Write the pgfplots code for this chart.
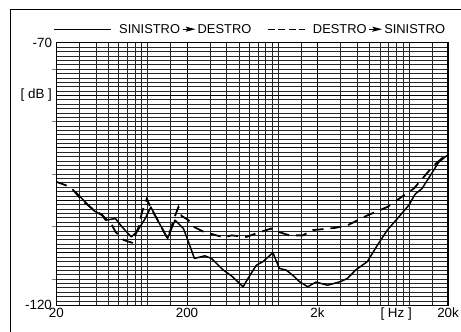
\documentclass[border=0pt]{standalone}
\usepackage{pgfplots}
\pgfplotsset{compat=1.18}
\usepackage{fontspec}
\setmainfont{Liberation Sans}
\newsavebox{\arrbox}
\begin{document}
\sbox{\arrbox}{\tikz[baseline={(0,-4.4bp)}]{\draw[line width=0.9pt] (0,0)--(6bp,0); \fill (3bp,2.6bp)--(13bp,0)--(3bp,-2.6bp)--(5bp,0)--cycle;}}
\begin{tikzpicture}
\begin{axis}[
  name=ax,
  at={(0,0)}, anchor=south west,
  scale only axis, width=394bp, height=264bp,
  xmode=log, xmin=20, xmax=20000, ymin=-120, ymax=-70,
  xtick={20,200,2000,20000}, xticklabels={20,200,2k,20k},
  minor xtick={30,40,50,60,70,80,90,100,150,300,400,500,600,700,800,900,1000,1500,3000,4000,5000,6000,7000,8000,9000,10000,15000},
  ytick={-120,-110,-100,-90,-80,-70}, yticklabels={-120,,,,{[ dB ]},-70},
  minor y tick num=11,
  grid=both,
  major grid style={black, line width=0.9pt},
  minor grid style={black!85, line width=0.45pt},
  major tick length=0pt, minor tick length=0pt,
  axis line style={line width=1.2pt},
  ytick pos=left, xtick pos=bottom,
  tick label style={font=\fontsize{13.5}{15}\selectfont},
  xticklabel style={yshift=1bp},
  yticklabel style={xshift=-1bp},
  extra x ticks={8000}, extra x tick labels={[ Hz ]},
  extra x tick style={grid=none, major tick length=0pt},
  extra y ticks={-75,-85,-95,-105,-115}, extra y tick labels={},
  extra y tick style={grid=none, major tick length=4bp, tick align=outside, tick style={line width=0.8pt}},
  legend columns=2,
  legend style={at={(rel axis cs:0,1)}, anchor=west, yshift=13bp, xshift=-3bp,
    draw=none, fill=none, inner sep=0pt,
    font=\fontsize{13}{15}\selectfont,
    /tikz/every odd column/.append style={column sep=6bp},
    /tikz/every even column/.append style={column sep=14bp}},
]
\addplot[black, line width=1.5pt, line join=round,
  legend image code/.code={\draw[black, line width=1pt] (0bp,0bp) -- (57bp,0bp);}]
coordinates {
(28,-98.4) (33.4,-100.4) (38.7,-102.0) (44.8,-102.9) (47.5,-103.8) (56.6,-103.5) (63.7,-105.1) (74.9,-107.0) (82.8,-106.0) (95.7,-103.5) (105.8,-101.3) (121,-104.1) (142,-107.3) (162,-103.8) (188,-105.4) (205,-107.9) (228,-111.1) (274,-110.6) (308,-111.1) (379,-113.3) (438,-114.4) (538,-116.5) (587,-114.9) (679,-112.4) (764,-111.7) (910,-110.0) (1021,-113.0) (1148,-113.3) (1292,-114.3) (1452,-115.5) (1682,-116.5) (1945,-115.6) (2388,-116.2) (3014,-115.5) (3388,-114.9) (3920,-113.3) (4816,-111.7) (5742,-108.6) (6843,-105.7) (8380,-103.2) (9980,-101.0) (11220,-98.8) (12620,-97.8) (14620,-95.3) (16900,-92.8) (19580,-91.5)
};
\addlegendentry{SINISTRO\,\usebox{\arrbox}\,DESTRO}
\addplot[black, line width=1.8pt, dash pattern=on 11bp off 7bp,
  legend image code/.code={\draw[black, line width=1pt, dash pattern=on 7bp off 3.5bp] (0bp,0bp) -- (37bp,0bp);}]
coordinates {
(20,-96.5) (25.7,-97.5) (31.6,-100.1) (37.6,-101.6) (44.8,-102.8) (53.4,-104.8) (56.6,-106.0) (65.6,-107.6) (75.8,-108.1) (85.3,-105.1) (90.4,-102.3) (98.6,-99.7) (104.6,-101.3) (121,-104.1) (142,-107.3) (162,-103) (172,-101.3) (182,-103) (205,-103.8) (223,-105.0) (267,-106.0) (325,-106.6) (387,-107.1) (438,-106.7) (570,-107.0) (700,-106.2) (883,-105.4) (993,-106.0) (1218,-106.7) (1540,-106.7) (1836,-105.7) (2680,-105.3) (3388,-104.8) (4816,-102.9) (6843,-101.3) (9140,-99.1) (10910,-97.8) (13000,-95.6) (15480,-93.4) (19020,-91.5)
};
\addlegendentry{DESTRO\,\usebox{\arrbox}\,SINISTRO}
\end{axis}
\draw[line width=1pt] ([shift={(-46bp,-30bp)}]ax.south west) -- ([shift={(-46bp,297bp)}]ax.south west) -- ([shift={(412bp,297bp)}]ax.south west);
\pgfresetboundingbox
\path[use as bounding box] ([shift={(-54bp,-26bp)}]ax.south west) rectangle ([shift={(407bp,307bp)}]ax.south west);
\end{tikzpicture}
\end{document}
